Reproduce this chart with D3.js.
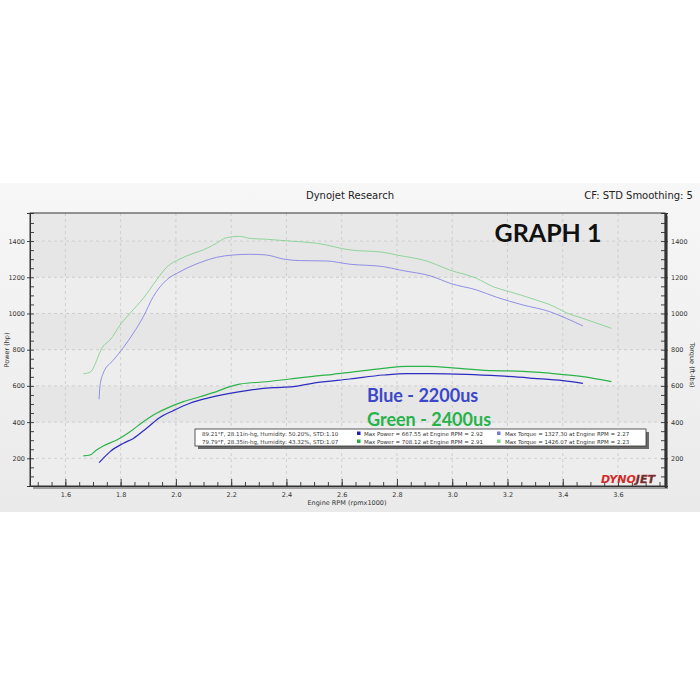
<!DOCTYPE html>
<html lang="en">
<head>
<meta charset="UTF-8">
<title>Dynojet Research</title>
<script src="https://d3js.org/d3.v7.min.js"></script>
<style>
    body { margin: 0; background: #ffffff; }
    svg text { font-family: "DejaVu Sans", sans-serif; }
</style>
</head>
<body>
<div id="chart"></div>
<script>

// rpm (x1000) / value pairs
var blueTorque = [[1.722,526],[1.725,596],[1.737,670],[1.774,743],[1.81,812],[1.846,891],[1.882,982],[1.918,1093],
    [1.966,1185],[2.015,1231],[2.087,1281],[2.147,1310],[2.207,1323],[2.27,1327],[2.328,1323],[2.388,1301],[2.448,1292],
    [2.545,1290],[2.63,1272],[2.75,1259],[2.81,1240],[2.931,1203],[2.991,1167],[3.088,1130],[3.16,1090],[3.256,1047],
    [3.353,1010],[3.413,973],[3.473,931]];
var greenTorque = [[1.665,667],[1.689,675],[1.737,820],[1.762,854],[1.798,936],[1.834,1001],[1.882,1084],[1.93,1185],
    [1.966,1255],[2.015,1301],[2.063,1332],[2.099,1351],[2.147,1388],[2.183,1419],[2.231,1426],[2.267,1415],[2.328,1410],
    [2.412,1400],[2.509,1388],[2.63,1351],[2.75,1338],[2.799,1323],[2.907,1290],[2.991,1240],[3.088,1194],[3.148,1148],
    [3.208,1120],[3.293,1080],[3.365,1041],[3.413,1004],[3.473,973],[3.576,918]];
var bluePower = [[1.722,176],[1.737,200],[1.762,237],[1.81,283],[1.846,310],[1.894,366],[1.942,426],[1.99,463],
    [2.051,504],[2.111,531],[2.195,559],[2.268,577],[2.352,590],[2.424,596],[2.509,618],[2.63,638],[2.75,660],
    [2.835,668],[2.92,668],[3.051,664],[3.172,655],[3.293,642],[3.401,629],[3.473,614]];
var greenPower = [[1.665,213],[1.689,218],[1.713,246],[1.737,268],[1.786,301],[1.834,347],[1.882,402],[1.93,449],
    [1.966,476],[2.027,513],[2.087,540],[2.147,568],[2.195,596],[2.231,610],[2.328,623],[2.412,638],[2.509,655],
    [2.569,664],[2.63,675],[2.75,697],[2.835,708],[2.91,708],[3.027,697],[3.148,684],[3.233,682],[3.353,670],
    [3.473,651],[3.576,623]];

var xTicks = [1.6, 1.8, 2.0, 2.2, 2.4, 2.6, 2.8, 3.0, 3.2, 3.4, 3.6];
var yTicks = [200, 400, 600, 800, 1000, 1200, 1400];
var weather = ["89.21°F, 28.11in-hg, Humidity: 50.20%, STD:1.10",
               "79.79°F, 28.35in-hg, Humidity: 43.32%, STD:1.07"];
var maxPower = ["Max Power = 667.55 at Engine RPM = 2.92",
                "Max Power = 708.12 at Engine RPM = 2.91"];
var maxTorque = ["Max Torque = 1327.30 at Engine RPM = 2.27",
                 "Max Torque = 1426.07 at Engine RPM = 2.23"];

var W = 700, H = 700;
var plot = {left: 30, right: 665, top: 213, bottom: 486};

var svg = d3.select("#chart").append("svg")
    .attr("width", W).attr("height", H);

var defs = svg.append("defs");
var bg = defs.append("linearGradient").attr("id", "bg")
    .attr("x1", 0).attr("y1", 0).attr("x2", 0).attr("y2", 1);
bg.append("stop").attr("offset", "0%").attr("stop-color", "#f7f7f7");
bg.append("stop").attr("offset", "100%").attr("stop-color", "#eaeaea");

// grey panel behind the chart
svg.append("rect")
    .attr("x", 0).attr("y", 183).attr("width", W).attr("height", 329)
    .attr("fill", "url(#bg)");

var x = d3.scaleLinear().domain([1.472, 3.77]).range([plot.left, plot.right]);
var y = d3.scaleLinear().domain([47, 1555]).range([plot.bottom, plot.top]);

// frame shadow
svg.append("rect")
    .attr("x", plot.left + 3).attr("y", plot.top + 3)
    .attr("width", plot.right - plot.left).attr("height", plot.bottom - plot.top)
    .attr("fill", "#a0a0a0");

svg.append("rect")
    .attr("x", plot.left).attr("y", plot.top)
    .attr("width", plot.right - plot.left).attr("height", plot.bottom - plot.top)
    .attr("fill", "#ededed");

// soft horizontal bands
var bands = [[1200, 1400], [800, 1000], [400, 600]];
svg.append("g").selectAll("rect").data(bands).enter().append("rect")
    .attr("x", plot.left).attr("width", plot.right - plot.left)
    .attr("y", function(d) { return y(d[1]); })
    .attr("height", function(d) { return y(d[0]) - y(d[1]); })
    .attr("fill", "#e6e6e6");
svg.append("rect")
    .attr("x", plot.left).attr("y", plot.top)
    .attr("width", plot.right - plot.left).attr("height", y(1400) - plot.top)
    .attr("fill", "#e8e8e8");

// grid
var grid = svg.append("g").attr("stroke", "#c8c8c8").attr("stroke-dasharray", "3,3").attr("stroke-width", 0.8);
grid.selectAll("line.v").data(xTicks).enter().append("line")
    .attr("x1", function(d) { return x(d); }).attr("x2", function(d) { return x(d); })
    .attr("y1", plot.top).attr("y2", plot.bottom);
grid.selectAll("line.h").data(yTicks).enter().append("line")
    .attr("y1", function(d) { return y(d); }).attr("y2", function(d) { return y(d); })
    .attr("x1", plot.left).attr("x2", plot.right);

// axes
var minorY = d3.range(100, 1550, 50);
var minorX = d3.range(1.5, 3.76, 0.05);

var bottomAxis = svg.append("g").attr("transform", "translate(0," + plot.bottom + ")")
    .call(d3.axisTop(x).tickValues(minorX).tickSize(4).tickFormat(""));
bottomAxis.append("g").call(d3.axisBottom(x).tickValues(xTicks).tickSize(0).tickPadding(6).tickFormat(d3.format(".1f")));
svg.append("g").attr("transform", "translate(0," + plot.bottom + ")")
    .call(d3.axisTop(x).tickValues(xTicks).tickSize(7).tickFormat(""));

svg.append("g").attr("transform", "translate(" + plot.left + ",0)")
    .call(d3.axisRight(y).tickValues(minorY).tickSize(4).tickFormat(""));
svg.append("g").attr("transform", "translate(" + plot.left + ",0)")
    .call(d3.axisLeft(y).tickValues(yTicks).tickSize(3).tickPadding(2).tickFormat(d3.format("d")));

svg.append("g").attr("transform", "translate(" + plot.right + ",0)")
    .call(d3.axisLeft(y).tickValues(minorY).tickSize(4).tickFormat(""));
svg.append("g").attr("transform", "translate(" + plot.right + ",0)")
    .call(d3.axisRight(y).tickValues(yTicks).tickSize(3).tickPadding(3).tickFormat(d3.format("d")));

svg.selectAll(".domain").attr("stroke", "#333");
svg.selectAll(".tick line").attr("stroke", "#444");
svg.selectAll(".tick text").attr("fill", "#333").style("font-size", "6.5px");

// frame
svg.append("rect")
    .attr("x", plot.left).attr("y", plot.top)
    .attr("width", plot.right - plot.left).attr("height", plot.bottom - plot.top)
    .attr("fill", "none").attr("stroke", "#333").attr("stroke-width", 1);
svg.append("line")
    .attr("x1", plot.right + 1).attr("x2", plot.right + 1)
    .attr("y1", plot.top).attr("y2", plot.bottom + 2)
    .attr("stroke", "#333").attr("stroke-width", 2.5);

// curves
var line = d3.line()
    .x(function(d) { return x(d[0]); })
    .y(function(d) { return y(d[1]); })
    .curve(d3.curveMonotoneX);

var series = [
    {data: greenTorque, color: "#86d191", width: 0.9},
    {data: blueTorque, color: "#8585e3", width: 0.9},
    {data: greenPower, color: "#2bb34a", width: 1.2},
    {data: bluePower, color: "#2c2cc0", width: 1.2}
];
svg.append("g").selectAll("path").data(series).enter().append("path")
    .attr("d", function(d) { return line(d.data); })
    .attr("fill", "none")
    .attr("stroke", function(d) { return d.color; })
    .attr("stroke-width", function(d) { return d.width; });

// titles
svg.append("text").attr("x", 350).attr("y", 199).attr("text-anchor", "middle")
    .style("font-size", "10px").attr("fill", "#222").text("Dynojet Research");
svg.append("text").attr("x", 693).attr("y", 199).attr("text-anchor", "end")
    .style("font-size", "10px").attr("fill", "#222").text("CF: STD Smoothing: 5");
svg.append("text").attr("x", 347).attr("y", 505).attr("text-anchor", "middle")
    .style("font-size", "6.5px").attr("fill", "#333").text("Engine RPM (rpmx1000)");
svg.append("text").attr("transform", "translate(9,350) rotate(-90)").attr("text-anchor", "middle")
    .style("font-size", "6.5px").attr("fill", "#333").text("Power (hp)");
svg.append("text").attr("transform", "translate(690,365) rotate(90)").attr("text-anchor", "middle")
    .style("font-size", "6.5px").attr("fill", "#333").text("Torque (ft-lbs)");

// overlaid notes
svg.append("text").attr("x", 548).attr("y", 242).attr("text-anchor", "middle")
    .style("font-family", "Lato, sans-serif").style("font-weight", "bold").style("font-size", "25px")
    .attr("fill", "#111").text("GRAPH 1");
svg.append("text").attr("x", 367).attr("y", 402)
    .style("font-family", "Lato, sans-serif").style("font-weight", "bold").style("font-size", "18px")
    .attr("fill", "#3a47c8").text("Blue - 2200us");
svg.append("text").attr("x", 367).attr("y", 426)
    .style("font-family", "Lato, sans-serif").style("font-weight", "bold").style("font-size", "18px")
    .attr("fill", "#27b24a").text("Green - 2400us");

// legend box
var lg = svg.append("g");
lg.append("rect").attr("x", 198).attr("y", 432).attr("width", 451).attr("height", 17).attr("fill", "#6a6a6a");
lg.append("rect").attr("x", 195).attr("y", 429).attr("width", 451).attr("height", 17)
    .attr("fill", "#ffffff").attr("stroke", "#333").attr("stroke-width", 0.8);
var rowY = [435.5, 443.5];
var sq = ["#2020c0", "#20b040"];
var sq2 = ["#7878dc", "#7ccc86"];
lg.selectAll("text.w").data(weather).enter().append("text")
    .attr("x", 202).attr("y", function(d, i) { return rowY[i]; })
    .style("font-size", "5.5px").attr("fill", "#333").text(function(d) { return d; });
lg.selectAll("rect.p").data(maxPower).enter().append("rect")
    .attr("x", 357).attr("y", function(d, i) { return rowY[i] - 4; })
    .attr("width", 3.5).attr("height", 3.5).attr("fill", function(d, i) { return sq[i]; });
lg.selectAll("text.p").data(maxPower).enter().append("text")
    .attr("x", 364).attr("y", function(d, i) { return rowY[i]; })
    .style("font-size", "5.5px").attr("fill", "#333").text(function(d) { return d; });
lg.selectAll("rect.t").data(maxTorque).enter().append("rect")
    .attr("x", 497).attr("y", function(d, i) { return rowY[i] - 4; })
    .attr("width", 3.5).attr("height", 3.5).attr("fill", function(d, i) { return sq2[i]; });
lg.selectAll("text.t").data(maxTorque).enter().append("text")
    .attr("x", 505).attr("y", function(d, i) { return rowY[i]; })
    .style("font-size", "5.5px").attr("fill", "#333").text(function(d) { return d; });

// logo
var logo = svg.append("text").attr("x", 601).attr("y", 483)
    .style("font-family", "'DejaVu Sans', sans-serif").style("font-weight", "bold")
    .style("font-style", "italic").style("font-size", "11px");
logo.append("tspan").attr("fill", "#d42a2a").text("DYNO");
logo.append("tspan").attr("fill", "#3a3a3a").attr("stroke", "#d42a2a").attr("stroke-width", 0.4).text("JET");

</script>
</body>
</html>
